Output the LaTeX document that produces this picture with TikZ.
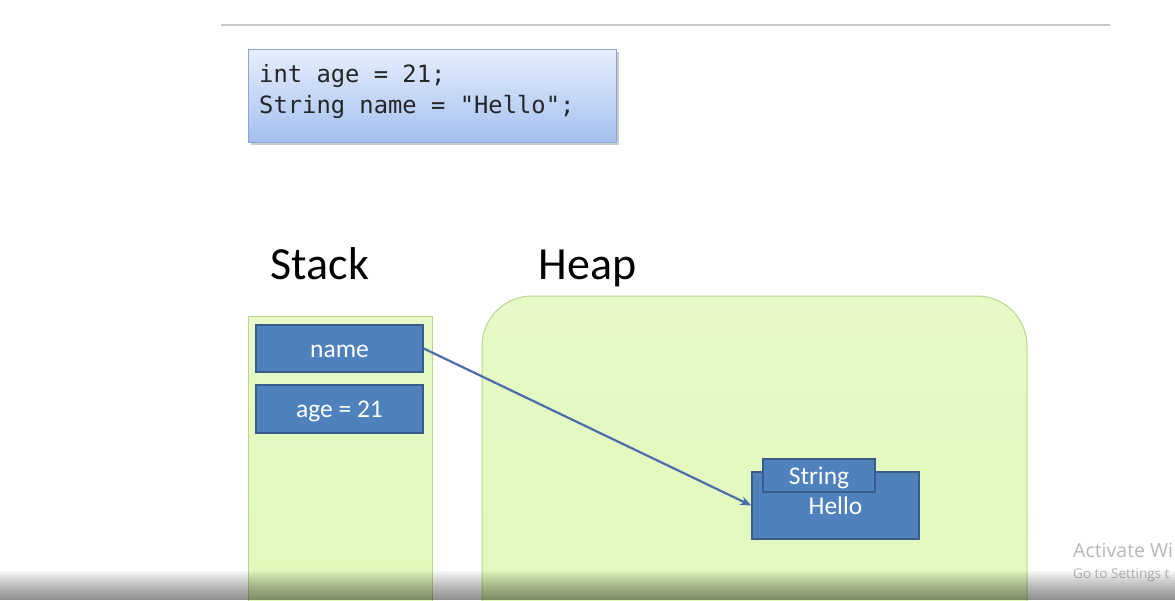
\documentclass[tikz,border=0pt]{standalone}
\usepackage{fontspec}
\setmainfont{Carlito}
\setmonofont{DejaVu Sans Mono}
\newfontfamily\winfont{Open Sans}
\usetikzlibrary{arrows.meta}
\newcommand\codefont{\ttfamily\fontsize{23.8}{31}\selectfont
  \fontdimen2\font=0.602em \fontdimen3\font=0pt \fontdimen4\font=0pt }
\definecolor{boxblue}{HTML}{4F81BD}
\definecolor{boxline}{HTML}{385D8A}
\definecolor{codetop}{HTML}{E6EEFD}
\definecolor{codebot}{HTML}{A4C0F0}
\definecolor{codeline}{HTML}{8FA7CF}
\definecolor{memfill}{HTML}{E0F8B8}
\definecolor{memline}{HTML}{B9D88E}
\definecolor{arrowblue}{HTML}{4A6DB0}
\begin{document}
\begin{tikzpicture}[x=1pt,y=-1pt,
    cell/.style={draw=boxline, fill=boxblue, line width=1.5pt, text=white,
      inner sep=0pt, text height=21pt, text depth=4pt, font=\fontsize{25.5}{30}\selectfont},
    title/.style={anchor=base west, font=\fontsize{46}{50}\selectfont}]
  \clip (0,0) rectangle (1175,600);
  \fill[white] (0,0) rectangle (1175,600);
  \draw[line width=2pt, black!22] (221,25) -- (1110,25);
  % code
  \fill[black!20] (251,52) rectangle (619,145);
  \shade[top color=codetop, bottom color=codebot, draw=codeline] (248,49) rectangle (616,142);
  \node[anchor=base west, inner sep=0pt, align=left, text=black!85, font=\codefont]
    (code) at (259,113) {int age = 21;\\String name = "Hello";};
  % memory
  \node[title] (stacklbl) at (267,279) {Stack};
  \node[title] (heaplbl) at (535,279) {Heap};
  \shade[top color=memfill!80, bottom color=memfill, draw=memline, line width=1pt]
    (248,316) rectangle (432,640);
  \shade[top color=memfill!80, bottom color=memfill, draw=memline, line width=1pt,
    rounded corners=50pt] (482,296) rectangle (1027,660);
  \node[cell, minimum width=167pt, minimum height=47pt] (name) at (339.5,348.5) {name};
  \node[cell, minimum width=167pt, minimum height=48pt] (age) at (339.5,409) {age = 21};
  \node[cell, minimum width=167pt, minimum height=67pt] (hello) at (835.5,505.5) {Hello};
  \node[cell, minimum width=112pt, minimum height=33pt] (strtab) at (819,475.5) {String};
  \draw[arrowblue, line width=2.2pt, -{Stealth[length=11pt,width=9pt]}] (name.east) -- (hello.west);
  % overlay
  \node[anchor=base west, inner sep=0pt, text=black!28, font=\winfont\fontsize{19.5}{20}\selectfont] (act) at (1073,557) {Activate Wi};
  \node[anchor=base west, inner sep=0pt, text=black!28, font=\winfont\fontsize{13.5}{15}\selectfont] (sett) at (1073,578) {Go to Settings t};
  \foreach \i in {0,...,14}
    \fill[black, opacity=0.035] (0,571+2*\i) rectangle (1175,600);
\end{tikzpicture}
\end{document}
